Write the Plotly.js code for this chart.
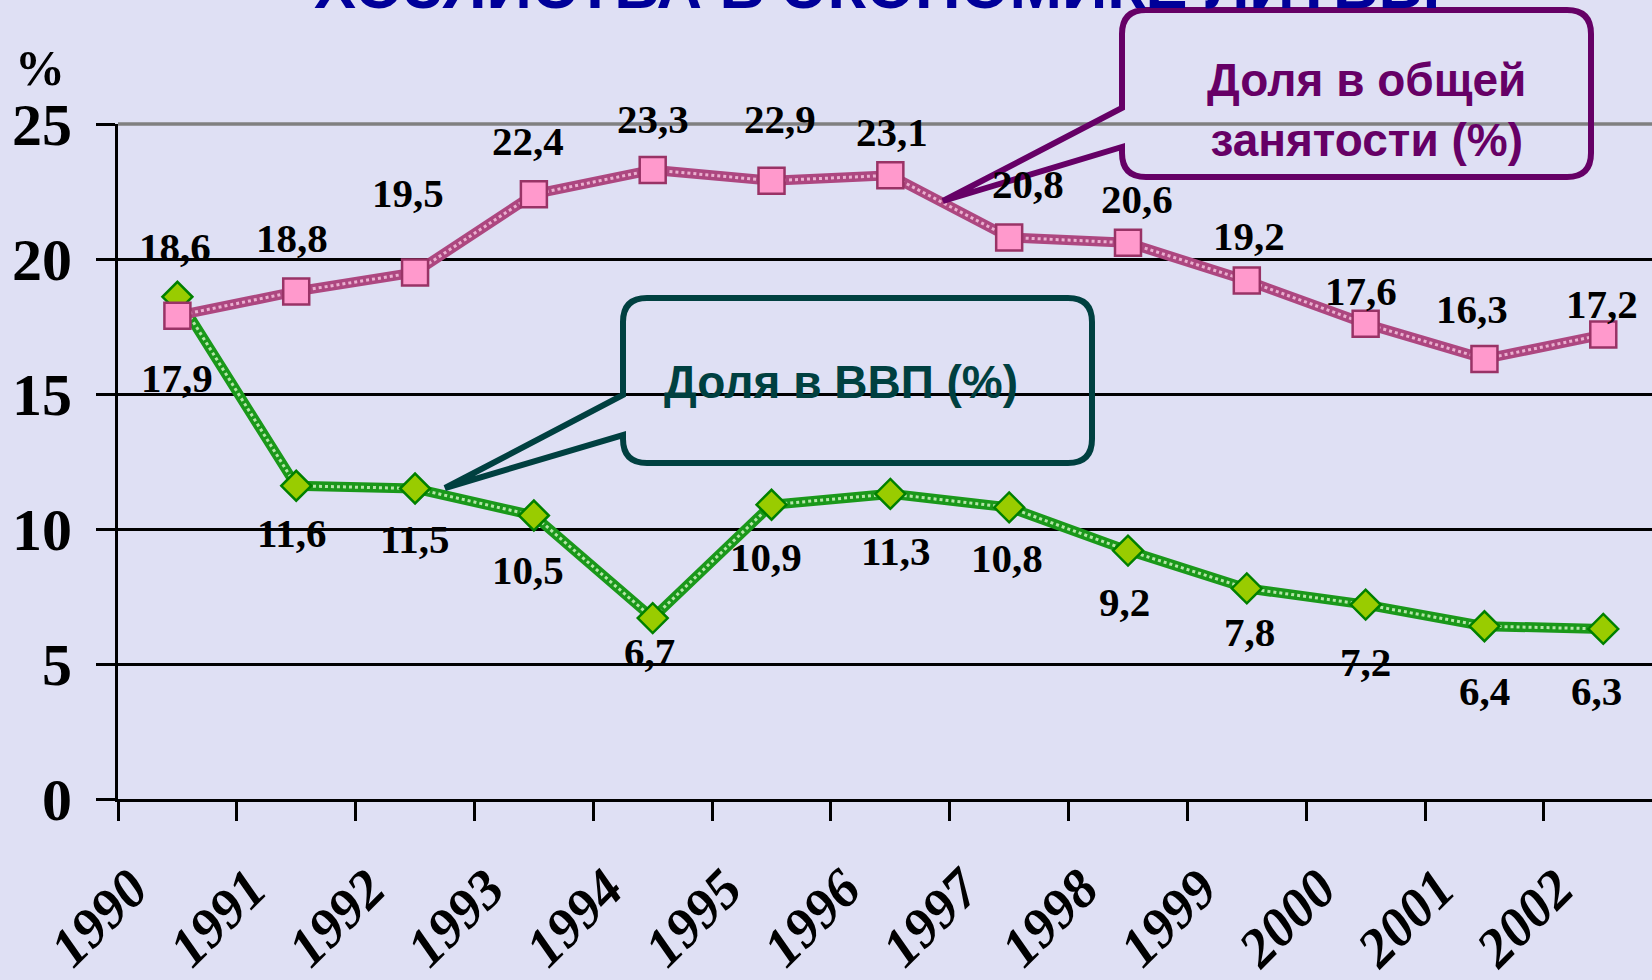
<!DOCTYPE html>
<html>
<head>
<meta charset="utf-8">
<script src="https://cdn.plot.ly/plotly-3.0.1.min.js"></script>
<style>
  html, body { margin: 0; padding: 0; background: #DFE0F4; }
  #chart { width: 1652px; height: 980px; }
</style>
</head>
<body>
<div id="chart"></div>
<script>
// ---- data ----
const years = ['1990','1991','1992','1993','1994','1995','1996','1997','1998','1999','2000','2001','2002'];
const employmentShare = [17.9, 18.8, 19.5, 22.4, 23.3, 22.9, 23.1, 20.8, 20.6, 19.2, 17.6, 16.3, 17.2];
const gdpShare = [18.6, 11.6, 11.5, 10.5, 6.7, 10.9, 11.3, 10.8, 9.2, 7.8, 7.2, 6.4, 6.3];
const yTicks = [0, 5, 10, 15, 20, 25];
const titleText = 'ХОЗЯЙСТВА В ЭКОНОМИКЕ ЛИТВЫ';
const employmentName = 'Доля в общей<br>занятости (%)';
const gdpName = 'Доля в ВВП (%)';

// ---- label offsets (pixels, layout only) ----
const empLabelDy = [-62, 53, 80, 53, 51, 62, 43, 53, 44, 45, 33, 50, 31];
const empLabelDx = [0, -4, -7, -6, 0, 8, 2, 19, 9, 2, -5, -12, -1];
const gdpLabelDy = [50, -47, -50, -54, -34, -52, -57, -51, -51, -44, -57, -65, -62];
const gdpLabelDx = [-2, -4, 0, -6, -3, -6, 6, -2, -3, 3, 0, 0, -7];

// ---- geometry ----
const W = 1652, H = 980;
const M = { l: 118, r: 0, t: 124, b: 181 };
const pw = W - M.l - M.r, ph = H - M.t - M.b;
const px = x => (x - M.l) / pw;
const py = y => (H - M.b - y) / ph;

const BG = '#DFE0F4';
const fmt = v => v.toFixed(1).replace('.', ',');

function calloutPath(L, R, T, B, r, w1, w2, tipX, tipY) {
  const P = (x, y) => px(x) + ',' + py(y);
  return 'M' + P(L + r, T) +
    ' L' + P(R - r, T) + ' Q' + P(R, T) + ' ' + P(R, T + r) +
    ' L' + P(R, B - r) + ' Q' + P(R, B) + ' ' + P(R - r, B) +
    ' L' + P(L + r, B) + ' Q' + P(L, B) + ' ' + P(L, B - r) +
    ' L' + P(L, w2) + ' L' + P(tipX, tipY) + ' L' + P(L, w1) +
    ' L' + P(L, T + r) + ' Q' + P(L, T) + ' ' + P(L + r, T) + ' Z';
}

const traces = [
  { x: years, y: gdpShare, type: 'scatter', mode: 'lines', hoverinfo: 'skip',
    line: { color: '#1A981A', width: 10 } },
  { x: years, y: gdpShare, type: 'scatter', mode: 'lines', hoverinfo: 'skip',
    line: { color: '#B5E6A8', width: 3, dash: 'dot' } },
  { x: years, y: gdpShare, type: 'scatter', mode: 'markers', name: gdpName,
    marker: { symbol: 'diamond', size: 23, color: '#99CC00', line: { color: '#008000', width: 2.5 } } },
  { x: years, y: employmentShare, type: 'scatter', mode: 'lines', hoverinfo: 'skip',
    line: { color: '#AD4780', width: 10 } },
  { x: years, y: employmentShare, type: 'scatter', mode: 'lines', hoverinfo: 'skip',
    line: { color: '#EBB0D0', width: 3, dash: 'dot' } },
  { x: years, y: employmentShare, type: 'scatter', mode: 'markers', name: employmentName,
    marker: { symbol: 'square', size: 26, color: '#FF99CC', line: { color: '#993366', width: 2.5 } } }
];

const labelFont = { family: 'Liberation Serif, Times New Roman, serif', size: 41, color: '#000000' };
const annotations = [];
years.forEach((yr, i) => {
  annotations.push({ x: i, y: employmentShare[i], xref: 'x', yref: 'y', text: '<b>' + fmt(employmentShare[i]) + '</b>',
    showarrow: false, xanchor: 'center', yanchor: 'middle', xshift: empLabelDx[i], yshift: empLabelDy[i],
    font: labelFont });
  annotations.push({ x: i, y: gdpShare[i], xref: 'x', yref: 'y', text: '<b>' + fmt(gdpShare[i]) + '</b>',
    showarrow: false, xanchor: 'center', yanchor: 'middle', xshift: gdpLabelDx[i], yshift: gdpLabelDy[i],
    font: labelFont });
});

// title (cropped at top as in the original slide)
annotations.push({ xref: 'paper', yref: 'paper', x: px(877), y: py(23), xanchor: 'center', yanchor: 'bottom',
  text: '<b>' + titleText + '</b>', showarrow: false,
  font: { family: 'Liberation Sans, Arial, sans-serif', size: 63, color: '#000099' } });
// y-axis unit
annotations.push({ xref: 'paper', yref: 'paper', x: px(40), y: py(68), xanchor: 'center', yanchor: 'middle',
  text: '<b>%</b>', showarrow: false,
  font: { family: 'Liberation Serif, Times New Roman, serif', size: 50, color: '#000000' } });
// callout texts
annotations.push({ xref: 'paper', yref: 'paper', x: px(1366), y: py(110), xanchor: 'center', yanchor: 'middle',
  text: '<b>' + employmentName + '</b>', showarrow: false,
  font: { family: 'Liberation Sans, Arial, sans-serif', size: 46, color: '#660066' } });
annotations.push({ xref: 'paper', yref: 'paper', x: px(841), y: py(382), xanchor: 'center', yanchor: 'middle',
  text: '<b>' + gdpName + '</b>', showarrow: false,
  font: { family: 'Liberation Sans, Arial, sans-serif', size: 46, color: '#004040' } });

const shapes = [
  { type: 'line', xref: 'paper', yref: 'paper', x0: 0, x1: 1, y0: 1, y1: 1, layer: 'above',
    line: { color: '#808080', width: 3.5 } },
  { type: 'path', xref: 'paper', yref: 'paper', layer: 'above',
    path: calloutPath(1122, 1591, 10, 177, 24, 108, 147, 943, 201),
    line: { color: '#660066', width: 6 }, fillcolor: 'rgba(0,0,0,0)' },
  { type: 'path', xref: 'paper', yref: 'paper', layer: 'above',
    path: calloutPath(623, 1092, 298, 463, 24, 395, 435, 445, 488),
    line: { color: '#004040', width: 6 }, fillcolor: 'rgba(0,0,0,0)' }
];

const layout = {
  width: W, height: H,
  margin: M,
  paper_bgcolor: BG, plot_bgcolor: BG,
  showlegend: false,
  xaxis: {
    type: 'category', range: [-0.5, 12.41], tickson: 'boundaries',
    tickvals: years, ticktext: years.map(y => '<b><i>' + y + '</i></b>'),
    showgrid: false, zeroline: false,
    showline: true, linecolor: '#000000', linewidth: 3,
    ticks: 'outside', ticklen: 19, tickwidth: 3, tickcolor: '#000000',
    tickangle: -45, ticklabelshift: -46, ticklabelstandoff: 32,
    tickfont: { family: 'Liberation Serif, Times New Roman, serif', size: 55, color: '#000000' }
  },
  yaxis: {
    range: [0, 25], tickvals: yTicks, ticktext: yTicks.map(v => '<b>' + v + '</b>'),
    showgrid: true, gridcolor: '#000000', gridwidth: 3, zeroline: false,
    showline: true, linecolor: '#000000', linewidth: 3,
    ticks: 'outside', ticklen: 19, tickwidth: 3, tickcolor: '#000000', ticklabelstandoff: 12,
    tickfont: { family: 'Liberation Serif, Times New Roman, serif', size: 60, color: '#000000' }
  },
  annotations: annotations,
  shapes: shapes
};

Plotly.newPlot('chart', traces, layout, { staticPlot: true });
</script>
</body>
</html>
